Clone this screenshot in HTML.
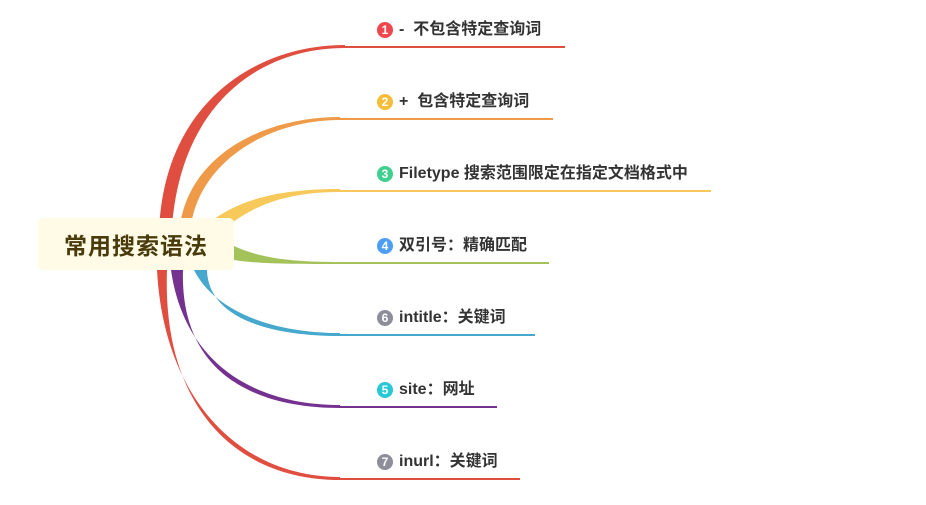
<!DOCTYPE html>
<html><head><meta charset="utf-8"><style>
html,body{margin:0;padding:0;background:#fff;}
body{width:926px;height:505px;position:relative;overflow:hidden;font-family:"Liberation Sans","Noto Sans CJK SC",sans-serif;}
.root{position:absolute;left:38px;top:218px;width:196px;height:52px;background:#fffbe6;border-radius:5px;color:#4a3b0c;font-size:23px;font-weight:bold;text-align:center;line-height:52px;letter-spacing:1px;font-family:"Noto Sans CJK SC",sans-serif;}
.lab{position:absolute;left:377px;height:20px;line-height:20px;font-size:16px;font-weight:bold;color:#333;white-space:nowrap;font-family:"Liberation Sans","Noto Sans CJK SC",sans-serif;}
.c{display:inline-block;width:16px;height:16px;border-radius:50%;color:#fff;font-size:12px;line-height:16px;text-align:center;vertical-align:0px;margin-right:6px;font-weight:bold;}
</style></head><body>
<svg width="926" height="505" style="position:absolute;left:0;top:0">
<path d="M159,250 C155,110 250,45 345,45 L345,48 C255,48 172,110 171,250Z" fill="#e04e40"/>
<line x1="344" y1="47" x2="565" y2="47" stroke="#e04e40" stroke-width="2"/>
<path d="M179,235 C184,158 260,117 340,117 L340,120 C265,120 194,165 190,235Z" fill="#ee9a48"/>
<line x1="339" y1="119" x2="553" y2="119" stroke="#ee9a48" stroke-width="2"/>
<path d="M210,222 C240,199 280,189 340,189 L340,192 C285,192 252,206 224,229Z" fill="#f6c95a"/>
<line x1="339" y1="191" x2="711" y2="191" stroke="#f6c95a" stroke-width="2"/>
<path d="M234,246 C260,258 290,262 340,262 L340,264 C290,264 260,264 234,260Z" fill="#a3c25a"/>
<line x1="339" y1="263" x2="549" y2="263" stroke="#a3c25a" stroke-width="2"/>
<path d="M194,270 C214,310 270,333 340,333 L340,336 C265,336 208,316 207,270Z" fill="#45a8cc"/>
<line x1="339" y1="335" x2="535" y2="335" stroke="#45a8cc" stroke-width="2"/>
<path d="M171,270 C184,360 250,405 340,405 L340,408 C245,408 180,366 183,270Z" fill="#74318f"/>
<line x1="339" y1="407" x2="497" y2="407" stroke="#74318f" stroke-width="2"/>
<path d="M157,270 C164,400 240,477 340,477 L340,480 C235,480 162,406 167,270Z" fill="#e04e40"/>
<line x1="339" y1="479" x2="520" y2="479" stroke="#e04e40" stroke-width="2"/>
</svg>
<div class="root">常用搜索语法</div>
<div class="lab" style="top:20px"><span class="c" style="background:#f0474f">1</span>-&nbsp; 不包含特定查询词</div>
<div class="lab" style="top:92px"><span class="c" style="background:#f6bd3a">2</span>+&nbsp; 包含特定查询词</div>
<div class="lab" style="top:164px"><span class="c" style="background:#3fcf8e">3</span>Filetype 搜索范围限定在指定文档格式中</div>
<div class="lab" style="top:236px"><span class="c" style="background:#4d9ff5">4</span>双引号：精确匹配</div>
<div class="lab" style="top:308px"><span class="c" style="background:#8e8e9a">6</span>intitle：关键词</div>
<div class="lab" style="top:380px"><span class="c" style="background:#26c9d5">5</span>site：网址</div>
<div class="lab" style="top:452px"><span class="c" style="background:#8e8e9a">7</span>inurl：关键词</div>
</body></html>
